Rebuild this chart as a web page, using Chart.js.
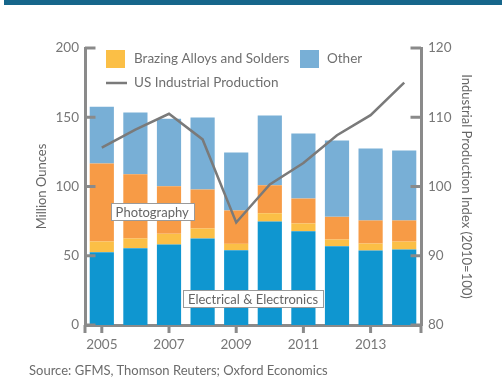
<!DOCTYPE html>
<html><head><meta charset="utf-8">
<script src="https://cdn.jsdelivr.net/npm/chart.js@4.4.0/dist/chart.umd.min.js"></script>
<style>
html,body{margin:0;padding:0;background:#fff;}
#wrap{position:relative;width:502px;height:382px;overflow:hidden;}
#band{position:absolute;left:4px;top:0;width:498px;height:5px;background:#16668b;}
canvas{position:absolute;left:0;top:0;}
#src{position:absolute;left:29px;top:362px;font:13px Lato,sans-serif;color:#6b6b6b;white-space:nowrap;}
</style></head><body>
<div id="wrap"><div id="band"></div><canvas id="c" width="502" height="382"></canvas><div id="src">Source: GFMS, Thomson Reuters; Oxford Economics</div></div>
<script>
const years = ['2005','2006','2007','2008','2009','2010','2011','2012','2013','2014'];
const electrical = [52.6,55.5,58.1,62.5,54.0,74.7,67.7,56.9,53.8,54.5];
const brazing = [7.7,7.0,7.7,7.2,4.6,6.0,5.6,4.8,5.0,5.7];
const photography = [56.3,46.4,34.4,28.1,24.1,20.2,18.0,16.4,16.7,15.3];
const other = [40.9,44.5,48.7,52.0,41.8,50.4,47.0,55.1,51.9,50.5];
const industrialProduction = [105.6,108.2,110.5,106.8,94.8,100.3,103.4,107.4,110.3,115.0];
const leftTicks = [0,50,100,150,200];
const rightTicks = [80,90,100,110,120];

const AXIS = '#8a8a8a';
const FONT = 'Lato, "Open Sans", sans-serif';

const axisTicks = {
  id:'axisTicks',
  afterDatasetsDraw(chart){
    const {ctx, chartArea:a, scales:{x,y,y1}} = chart;
    ctx.save();
    ctx.strokeStyle = AXIS; ctx.lineWidth = 3; ctx.lineCap = 'butt';
    const ln=(x0,y0,x1,y1_)=>{ctx.beginPath();ctx.moveTo(x0,y0);ctx.lineTo(x1,y1_);ctx.stroke();};
    leftTicks.forEach(v=>{const p=y.getPixelForValue(v); ln(a.left,p,a.left+10.5,p);});
    rightTicks.forEach(v=>{const p=y1.getPixelForValue(v); ln(a.right-10.5,p,a.right,p);});
    years.forEach((yr,i)=>{ if(i%2===0){const p=x.getPixelForValue(i); ln(p,a.bottom,p,a.bottom+8);} });
    ln(a.left,a.bottom,a.left,a.bottom+8);
    ln(a.right,a.bottom,a.right,a.bottom+8);
    ctx.restore();
  }
};

const inlineLabels = {
  id:'inlineLabels',
  afterDatasetsDraw(chart, args, opts){
    const {ctx, scales:{x,y}} = chart;
    ctx.save();
    ctx.font = '13px ' + FONT;
    ctx.textBaseline = 'middle'; ctx.textAlign = 'center';
    opts.items.forEach(it=>{
      const cx = (x.getPixelForValue(it.i0)+x.getPixelForValue(it.i1))/2;
      const cy = y.getPixelForValue(it.v);
      const w = ctx.measureText(it.text).width + 10, h = 17;
      ctx.fillStyle='#fff'; ctx.fillRect(Math.round(cx-w/2)+0.5, Math.round(cy-h/2)+0.5, Math.round(w), h);
      ctx.strokeStyle='#9a9a9a'; ctx.lineWidth=1;
      ctx.strokeRect(Math.round(cx-w/2)+0.5, Math.round(cy-h/2)+0.5, Math.round(w), h);
      ctx.fillStyle='#666'; ctx.fillText(it.text, cx, cy+1);
    });
    ctx.restore();
  }
};

const customLegend = {
  id:'customLegend',
  afterDraw(chart){
    const {ctx, chartArea:a} = chart;
    const ds = chart.data.datasets;
    ctx.save();
    ctx.font = '13.5px ' + FONT;
    ctx.textBaseline='middle'; ctx.textAlign='left'; 
    const row1 = a.top + 11, row2 = a.top + 35;
    const b = ds[1], o = ds[3], l = ds[4];
    ctx.fillStyle = b.backgroundColor; ctx.fillRect(a.left+21, row1-9, 19, 18);
    ctx.fillStyle = '#6f6f6f'; ctx.fillText(b.label, a.left+49, row1);
    ctx.fillStyle = o.backgroundColor; ctx.fillRect(a.left+215, row1-9, 19, 18);
    ctx.fillStyle = '#6f6f6f'; ctx.fillText(o.label, a.left+242, row1);
    ctx.strokeStyle = l.borderColor; ctx.lineWidth = 2.5;
    ctx.beginPath(); ctx.moveTo(a.left+21,row2); ctx.lineTo(a.left+42,row2); ctx.stroke();
    ctx.fillStyle = '#6f6f6f'; ctx.fillText(l.label, a.left+49, row2);
    ctx.restore();
  }
};

new Chart(document.getElementById('c'), {
  type:'bar',
  data:{
    labels: years,
    datasets:[
      {label:'Electrical & Electronics', data:electrical, backgroundColor:'#0f96d0', order:1, yAxisID:'y'},
      {label:'Brazing Alloys and Solders', data:brazing, backgroundColor:'#fbbf46', order:1, yAxisID:'y'},
      {label:'Photography', data:photography, backgroundColor:'#f79b46', order:1, yAxisID:'y'},
      {label:'Other', data:other, backgroundColor:'#78afd6', order:1, yAxisID:'y'},
      {type:'line', label:'US Industrial Production', data:industrialProduction, yAxisID:'y1',
       borderColor:'#7a7a7a', borderWidth:2.5, pointRadius:0, fill:false, tension:0, order:0}
    ]
  },
  options:{
    responsive:false, animation:false,
    layout:{padding:{top:48,left:0,right:0,bottom:0}},
    datasets:{bar:{barPercentage:0.72, categoryPercentage:1}},
    plugins:{legend:{display:false}, tooltip:{enabled:false},
      inlineLabels:{items:[
        {text:'Photography', i0:1, i1:2, v:82},
        {text:'Electrical & Electronics', i0:4, i1:5, v:19}
      ]}},
    scales:{
      x:{stacked:true, grid:{display:false, drawTicks:false}, border:{display:true,color:AXIS,width:3},
         ticks:{autoSkip:false, maxRotation:0, padding:12, color:'#777', font:{family:FONT,size:13.5},
                callback:(v,i)=> i%2===0 ? years[i] : ''},
         afterFit(s){s.height=57;}},
      y:{stacked:true, position:'left', min:0, max:200, grid:{display:false, drawTicks:false},
         border:{display:true,color:AXIS,width:3},
         ticks:{stepSize:50, padding:6, color:'#777', font:{family:FONT,size:13.5}},
         title:{display:true, text:'Million Ounces', color:'#666', font:{family:FONT,size:13}, padding:{top:34,bottom:0}},
         afterFit(s){s.width=85;}},
      y1:{position:'right', min:80, max:120, grid:{display:false, drawTicks:false},
         border:{display:true,color:AXIS,width:3},
         ticks:{stepSize:10, padding:7, color:'#777', font:{family:FONT,size:13.5}},
         title:{display:true, text:'Industrial Production Index (2010=100)', color:'#666', font:{family:FONT,size:13}, padding:{top:28,bottom:0}},
         afterFit(s){s.width=81;}}
    }
  },
  plugins:[axisTicks, inlineLabels, customLegend]
});
</script>
</body></html>
